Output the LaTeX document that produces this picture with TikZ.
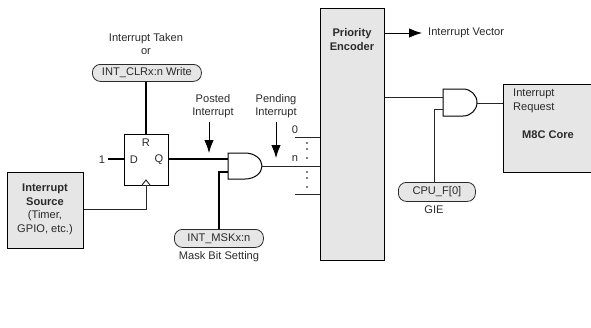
\documentclass[tikz,border=0pt]{standalone}
\usepackage{fontspec}
\setmainfont{Liberation Sans}
\usetikzlibrary{arrows.meta,calc}
\definecolor{boxgray}{HTML}{E6E6E6}
\definecolor{inkc}{HTML}{2A2A2A}
\tikzset{
  x=1pt,y=-1pt,
  every node/.style={font=\fontsize{11.1pt}{12.5pt}\selectfont,text=inkc,inner sep=0pt},
  block/.style={draw=black,line width=1.3pt,fill=boxgray,anchor=north west},
  pill/.style={draw=inkc,line width=.8pt,fill=boxgray,rounded corners=8pt,anchor=north west},
  wire/.style={draw=black!85,line width=.9pt},
  heavy/.style={draw=black,line width=1.4pt},
  lbl/.style={align=center},
  tiparrow/.style={draw=black,line width=.9pt,-{Latex[length=13pt,width=9.5pt]}},
  gatebody/.style={draw=black,line width=1pt,fill=white},
}
\newcommand{\boxat}[6]{\node[#1,minimum width=#4pt,minimum height=#5pt] (#2) at (#3) {#6};}
\begin{document}
\begin{tikzpicture}
\useasboundingbox (0,0) rectangle (591,327);
% blocks
\boxat{block}{src}{7,172}{76}{76}{}
\boxat{block}{enc}{320,8}{64}{252}{}
\boxat{block}{core}{503,84}{92}{88}{}
\node[draw=black,line width=1.2pt,fill=white,minimum width=44pt,minimum height=51pt,anchor=north west] (ff) at (124,134) {};
\boxat{pill}{clr}{92,64}{109}{17}{INT\_CLRx:n Write}
\boxat{pill}{msk}{174,229}{89}{18}{INT\_MSKx:n}
\boxat{pill}{cpu}{398,182}{77}{19}{CPU\_F[0]}
% coordinates
\coordinate (ga) at (228,153);
\coordinate (gaQ) at (228,159);
\coordinate (gaM) at (228,172);
\coordinate (gaO) at (262,166);
\coordinate (gb) at (443,89);
\coordinate (gbI) at (443,97);
\coordinate (gbG) at (443,109);
\coordinate (gbO) at (477,103);
\coordinate (one) at (108,159);
\coordinate (ffQ) at (168,159);
\coordinate (ffD) at (124,159);
\coordinate (ffR) at (146,134);
\coordinate (ffC) at (146,185);
\coordinate (in0) at (295,137);
\coordinate (inL) at (295,194);
% gates
\draw[gatebody] (ga) -- ++(17,0) arc[start angle=-90,end angle=90,x radius=17pt,y radius=-13pt] -- ++(-17,0) -- cycle;
\draw[gatebody] (gb) -- ++(20,0) arc[start angle=-90,end angle=90,x radius=14pt,y radius=-13.5pt] -- ++(-20,0) -- cycle;
% connectors
\draw[heavy] (clr.south -| ffR) -- (ffR);
\draw[heavy] (one) -- (ffD);
\draw[heavy] (ffQ) -- (gaQ);
\draw[heavy] (msk.north -| 219,0) |- (gaM);
\draw[wire] (src.east |- 0,209) -| (ffC);
\draw[wire,fill=white] ($(ffC)+(-4,0)$) -- ($(ffC)+(0,-5)$) -- ($(ffC)+(4,0)$);
\draw[wire] (gaO) -- (enc.west |- gaO);
\draw[wire] (in0) -- (enc.west |- in0);
\draw[wire] (inL) -- (enc.west |- inL);
\draw[wire] (enc.east |- gbI) -- (gbI);
\draw[wire,line width=1pt] (cpu.north -| 434,0) |- (gbG);
\draw[wire] (gbO) -- (core.west |- gbO);
\coordinate (vecEnd) at (422,33);
\draw[tiparrow] (enc.east |- vecEnd) -- (vecEnd);
% arrows to lines
\coordinate (postTop) at (209,122);
\coordinate (postTip) at (209,153);
\coordinate (pendTop) at (276,122);
\coordinate (pendTip) at (276,158);
\draw[tiparrow] (postTop) -- (postTip);
\draw[tiparrow] (pendTop) -- (pendTip);
% dots
\foreach \yy in {143,149,158,172,178,187}
  \fill[black] (307,\yy) circle[radius=.9pt];
% texts
\node (t1) at (146,39) {Interrupt Taken};
\node (t2) at (146,52) {or};
\node[lbl] (t3) at (213,106) {Posted\\[1pt]Interrupt};
\node[lbl] (t4) at (276,106) {Pending\\[1pt]Interrupt};
\node (tR) at (146,143) {R};
\node (tD) at (134,159.5) {D};
\node (tQ) at (159,159.5) {Q};
\node (t1b) at (102,159.5) {1};
\node[lbl] (t5) at (45,209.5) {\textbf{Interrupt}\\[1pt]\textbf{Source}\\[1pt](Timer,\\[1pt]GPIO, etc.)};
\node (t6) at (219,257) {Mask Bit Setting};
\node (t0) at (295,130) {0};
\node (tn) at (295,159) {n};
\node[lbl] (t7) at (352,39.5) {\textbf{Priority}\\[1pt]\textbf{Encoder}};
\node[anchor=west] (t8) at (428,33) {Interrupt Vector};
\node[anchor=west,lbl,align=left] (t9) at (513,101) {Interrupt\\[1pt]Request};
\node (t10) at (548,134.5) {\textbf{M8C Core}};
\node (t11) at (434,210) {GIE};
\end{tikzpicture}
\end{document}
